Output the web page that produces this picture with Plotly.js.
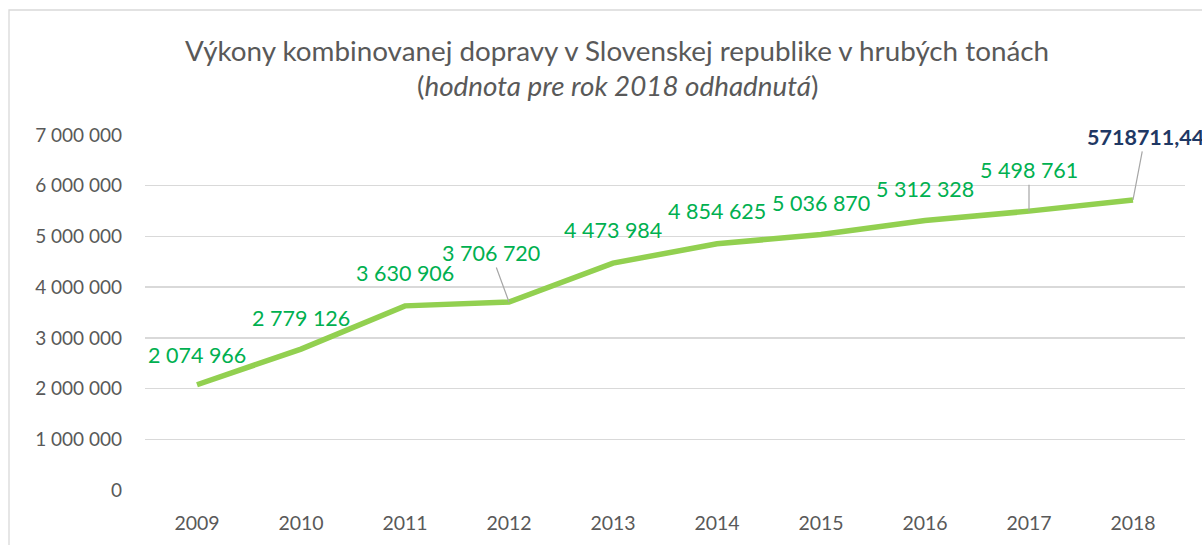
<!DOCTYPE html>
<html>
<head>
<meta charset="utf-8">
<script src="https://cdn.plot.ly/plotly-3.0.1.min.js"></script>
<style>
html,body{margin:0;padding:0;overflow:hidden;background:#fff;}
#chart{width:1202px;height:545px;}
</style>
</head>
<body>
<div id="chart"></div>
<script>
const years = ["2009","2010","2011","2012","2013","2014","2015","2016","2017","2018"];
const values = [2074966, 2779126, 3630906, 3706720, 4473984, 4854625, 5036870, 5312328, 5498761, 5718711.44];
const labels = ["2 074 966","2 779 126","3 630 906","3 706 720","4 473 984","4 854 625","5 036 870","5 312 328","5 498 761","5718711,44"];
const yTickVals = [0, 1000000, 2000000, 3000000, 4000000, 5000000, 6000000, 7000000];
const yTickText = ["0","1 000 000","2 000 000","3 000 000","4 000 000","5 000 000","6 000 000","7 000 000"];
const titleLine1 = "Výkony kombinovanej dopravy v Slovenskej republike v hrubých tonách";
const titleLine2 = "(<i>hodnota pre rok 2018 odhadnutá</i>)";

const FONT = "Lato, Carlito, Calibri, 'Open Sans', sans-serif";

// label placement: [dx, dy, leader]
const place = [
  [0,-30,false],[0,-31,false],[0,-33,false],[-18,-49,true],[0,-33,false],
  [0,-33,false],[0,-32,false],[0,-32,false],[0,-41,true],[12,-63,true]
];

const annotations = years.map((yr,i)=>{
  const p = place[i];
  const last = i === years.length-1;
  const a = {
    x: i, y: values[i], xref:'x', yref:'y',
    text: last ? '<b>'+labels[i]+'</b>' : labels[i],
    font: {family: FONT, size: 21.5, color: last ? '#1F3864' : '#00B050'},
    xanchor:'center', yanchor:'middle'
  };
  if (p[2]) {
    a.showarrow = true; a.arrowhead = 0; a.arrowwidth = 1.2; a.arrowcolor = '#A6A6A6';
    a.ax = p[0]; a.ay = p[1]; a.standoff = 0;
  } else {
    a.showarrow = false; a.xshift = p[0]; a.yshift = -p[1];
  }
  return a;
});

annotations.push({
  xref:'paper', yref:'paper', x:(617-145)/1040, y:(490-50)/355,
  text: titleLine1, showarrow:false, xanchor:'center', yanchor:'middle',
  font:{family:FONT, size:27.8, color:'#595959'}
});
annotations.push({
  xref:'paper', yref:'paper', x:(617-145)/1040, y:(490-86)/355,
  text: titleLine2, showarrow:false, xanchor:'center', yanchor:'middle',
  font:{family:FONT, size:27.8, color:'#595959'}
});

const trace = {
  x: years, y: values, type:'scatter', mode:'lines',
  line:{color:'#92D050', width:5.5},
  hoverinfo:'skip'
};

const layout = {
  width:1202, height:545,
  margin:{l:145, r:17, t:135, b:55},
  paper_bgcolor:'#fff', plot_bgcolor:'#fff',
  showlegend:false,
  font:{family:FONT, color:'#595959'},
  xaxis:{
    type:'category', range:[-0.5, 9.5], autorange:false,
    showgrid:false, zeroline:false, showline:false,
    ticks:'', tickfont:{family:FONT, size:19.5, color:'#595959'}, ticklabelstandoff:19
  },
  yaxis:{
    range:[0,7000000], autorange:false, tickvals:yTickVals, ticktext:yTickText,
    showgrid:true, gridcolor:'#D9D9D9', gridwidth:1.3, zeroline:false, showline:false,
    ticks:'', tickfont:{family:FONT, size:19, color:'#595959'}, ticklabelstandoff:22
  },
  annotations: annotations,
  shapes:[{
    type:'rect', xref:'paper', yref:'paper',
    x0:(9-145)/1040, x1:1.3, y0:-0.3, y1:(490-10)/355,
    line:{color:'#D9D9D9', width:1.3}, fillcolor:'rgba(0,0,0,0)', layer:'below'
  }]
};

Plotly.newPlot('chart',[trace],layout,{displayModeBar:false, staticPlot:true});
</script>
</body>
</html>
